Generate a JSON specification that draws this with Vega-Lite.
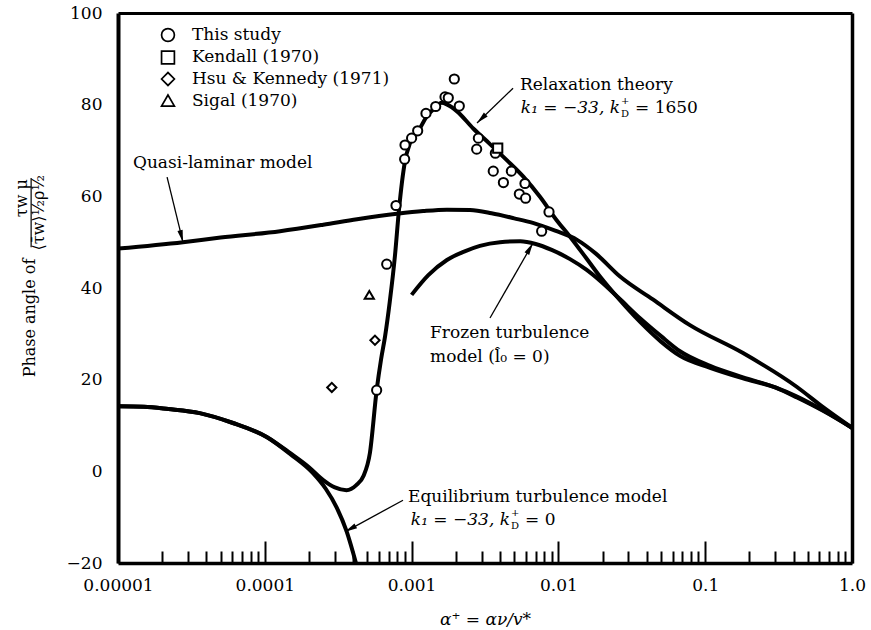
{
  "$schema": "https://vega.github.io/schema/vega-lite/v6.json",
  "width": 734,
  "height": 550,
  "autosize": {"type": "none"},
  "padding": {"left": 118, "top": 13, "right": 19, "bottom": 67},
  "background": "white",
  "config": {
    "font": "DejaVu Serif",
    "view": {"stroke": null},
    "axis": {
      "grid": false,
      "labelFont": "DejaVu Serif",
      "labelFontSize": 17,
      "labelColor": "black",
      "domainColor": "black",
      "tickColor": "black",
      "titleFont": "DejaVu Serif",
      "titleColor": "black",
      "titleFontWeight": "normal",
      "labelFlush": false,
      "labelOverlap": false,
      "labelBound": false
    },
    "text": {"font": "DejaVu Serif", "fontSize": 17, "color": "black"}
  },
  "datasets": {
    "curves": [
      {"series": "Relaxation theory", "x": 0.00001, "y": 14.2},
      {"series": "Relaxation theory", "x": 0.000015, "y": 14.1},
      {"series": "Relaxation theory", "x": 0.000022, "y": 13.6},
      {"series": "Relaxation theory", "x": 0.000036, "y": 12.7},
      {"series": "Relaxation theory", "x": 0.00006, "y": 10.6},
      {"series": "Relaxation theory", "x": 0.000103, "y": 7.5},
      {"series": "Relaxation theory", "x": 0.00015, "y": 3.9},
      {"series": "Relaxation theory", "x": 0.0002, "y": 0.9},
      {"series": "Relaxation theory", "x": 0.00025, "y": -1.9},
      {"series": "Relaxation theory", "x": 0.0003, "y": -3.5},
      {"series": "Relaxation theory", "x": 0.00036, "y": -4.1},
      {"series": "Relaxation theory", "x": 0.00042, "y": -3.0},
      {"series": "Relaxation theory", "x": 0.00047, "y": -1.0},
      {"series": "Relaxation theory", "x": 0.00052, "y": 4.0},
      {"series": "Relaxation theory", "x": 0.000578, "y": 17.7},
      {"series": "Relaxation theory", "x": 0.00062, "y": 24.5},
      {"series": "Relaxation theory", "x": 0.00066, "y": 29.5},
      {"series": "Relaxation theory", "x": 0.00071, "y": 37.0},
      {"series": "Relaxation theory", "x": 0.00077, "y": 47.0},
      {"series": "Relaxation theory", "x": 0.00082, "y": 57.0},
      {"series": "Relaxation theory", "x": 0.0009, "y": 67.5},
      {"series": "Relaxation theory", "x": 0.000975, "y": 71.6},
      {"series": "Relaxation theory", "x": 0.001106, "y": 74.1},
      {"series": "Relaxation theory", "x": 0.001267, "y": 77.4},
      {"series": "Relaxation theory", "x": 0.00145, "y": 79.4},
      {"series": "Relaxation theory", "x": 0.0016, "y": 80.4},
      {"series": "Relaxation theory", "x": 0.00175, "y": 80.0},
      {"series": "Relaxation theory", "x": 0.00203, "y": 78.6},
      {"series": "Relaxation theory", "x": 0.00263, "y": 74.8},
      {"series": "Relaxation theory", "x": 0.00342, "y": 71.4},
      {"series": "Relaxation theory", "x": 0.00445, "y": 67.9},
      {"series": "Relaxation theory", "x": 0.00577, "y": 64.3},
      {"series": "Relaxation theory", "x": 0.00749, "y": 59.9},
      {"series": "Relaxation theory", "x": 0.00973, "y": 54.8},
      {"series": "Relaxation theory", "x": 0.012, "y": 51.2},
      {"series": "Relaxation theory", "x": 0.0155, "y": 46.5},
      {"series": "Relaxation theory", "x": 0.0192, "y": 42.5},
      {"series": "Relaxation theory", "x": 0.026, "y": 37.5},
      {"series": "Relaxation theory", "x": 0.036, "y": 32.6},
      {"series": "Relaxation theory", "x": 0.05, "y": 28.3},
      {"series": "Relaxation theory", "x": 0.0673, "y": 25.2},
      {"series": "Relaxation theory", "x": 0.108, "y": 22.6},
      {"series": "Relaxation theory", "x": 0.181, "y": 20.3},
      {"series": "Relaxation theory", "x": 0.3, "y": 18.3},
      {"series": "Relaxation theory", "x": 0.422, "y": 16.3},
      {"series": "Relaxation theory", "x": 0.635, "y": 13.3},
      {"series": "Relaxation theory", "x": 1.0, "y": 9.5},
      {"series": "Equilibrium turbulence", "x": 0.00001, "y": 14.2},
      {"series": "Equilibrium turbulence", "x": 0.000015, "y": 14.1},
      {"series": "Equilibrium turbulence", "x": 0.000022, "y": 13.6},
      {"series": "Equilibrium turbulence", "x": 0.000036, "y": 12.7},
      {"series": "Equilibrium turbulence", "x": 0.00006, "y": 10.6},
      {"series": "Equilibrium turbulence", "x": 0.000103, "y": 7.5},
      {"series": "Equilibrium turbulence", "x": 0.00015, "y": 3.7},
      {"series": "Equilibrium turbulence", "x": 0.000213, "y": -0.4},
      {"series": "Equilibrium turbulence", "x": 0.00026, "y": -3.8},
      {"series": "Equilibrium turbulence", "x": 0.000309, "y": -7.9},
      {"series": "Equilibrium turbulence", "x": 0.00036, "y": -13.0},
      {"series": "Equilibrium turbulence", "x": 0.000399, "y": -17.7},
      {"series": "Equilibrium turbulence", "x": 0.00043, "y": -21.5},
      {"series": "Frozen turbulence", "x": 0.001, "y": 38.5},
      {"series": "Frozen turbulence", "x": 0.0013, "y": 42.8},
      {"series": "Frozen turbulence", "x": 0.00174, "y": 46.1},
      {"series": "Frozen turbulence", "x": 0.0023, "y": 48.0},
      {"series": "Frozen turbulence", "x": 0.00292, "y": 49.2},
      {"series": "Frozen turbulence", "x": 0.004, "y": 50.0},
      {"series": "Frozen turbulence", "x": 0.0055, "y": 50.2},
      {"series": "Frozen turbulence", "x": 0.007, "y": 49.6},
      {"series": "Frozen turbulence", "x": 0.009, "y": 48.3},
      {"series": "Frozen turbulence", "x": 0.012, "y": 46.3},
      {"series": "Frozen turbulence", "x": 0.0155, "y": 44.0},
      {"series": "Frozen turbulence", "x": 0.0192, "y": 41.6},
      {"series": "Frozen turbulence", "x": 0.026, "y": 37.7},
      {"series": "Frozen turbulence", "x": 0.036, "y": 33.4},
      {"series": "Frozen turbulence", "x": 0.05, "y": 29.5},
      {"series": "Frozen turbulence", "x": 0.0673, "y": 26.2},
      {"series": "Frozen turbulence", "x": 0.108, "y": 23.0},
      {"series": "Frozen turbulence", "x": 0.181, "y": 20.5},
      {"series": "Frozen turbulence", "x": 0.3, "y": 18.3},
      {"series": "Frozen turbulence", "x": 0.422, "y": 16.1},
      {"series": "Frozen turbulence", "x": 0.635, "y": 13.2},
      {"series": "Frozen turbulence", "x": 1.0, "y": 9.5},
      {"series": "Quasi-laminar", "x": 0.00001, "y": 48.6},
      {"series": "Quasi-laminar", "x": 0.0000277, "y": 50.0},
      {"series": "Quasi-laminar", "x": 0.00005, "y": 51.0},
      {"series": "Quasi-laminar", "x": 0.000127, "y": 52.4},
      {"series": "Quasi-laminar", "x": 0.00025, "y": 53.8},
      {"series": "Quasi-laminar", "x": 0.000425, "y": 55.0},
      {"series": "Quasi-laminar", "x": 0.000795, "y": 56.2},
      {"series": "Quasi-laminar", "x": 0.0012, "y": 56.8},
      {"series": "Quasi-laminar", "x": 0.00174, "y": 57.1},
      {"series": "Quasi-laminar", "x": 0.0025, "y": 57.0},
      {"series": "Quasi-laminar", "x": 0.0035, "y": 56.3},
      {"series": "Quasi-laminar", "x": 0.005, "y": 55.2},
      {"series": "Quasi-laminar", "x": 0.0067, "y": 54.2},
      {"series": "Quasi-laminar", "x": 0.0095, "y": 52.5},
      {"series": "Quasi-laminar", "x": 0.0134, "y": 50.5},
      {"series": "Quasi-laminar", "x": 0.018, "y": 47.5},
      {"series": "Quasi-laminar", "x": 0.0263, "y": 42.5},
      {"series": "Quasi-laminar", "x": 0.044, "y": 37.5},
      {"series": "Quasi-laminar", "x": 0.0787, "y": 31.9},
      {"series": "Quasi-laminar", "x": 0.181, "y": 25.8},
      {"series": "Quasi-laminar", "x": 0.422, "y": 18.4},
      {"series": "Quasi-laminar", "x": 0.635, "y": 14.0},
      {"series": "Quasi-laminar", "x": 1.0, "y": 9.5}
    ],
    "measurements": [
      {"source": "This study", "x": 0.001954, "y": 85.6},
      {"source": "This study", "x": 0.001689, "y": 81.7},
      {"source": "This study", "x": 0.001778, "y": 81.5},
      {"source": "This study", "x": 0.002113, "y": 79.7},
      {"source": "This study", "x": 0.001459, "y": 79.6},
      {"source": "This study", "x": 0.001253, "y": 78.1},
      {"source": "This study", "x": 0.0011, "y": 74.3},
      {"source": "This study", "x": 0.001, "y": 72.7},
      {"source": "This study", "x": 0.000902, "y": 71.2},
      {"source": "This study", "x": 0.000897, "y": 68.1},
      {"source": "This study", "x": 0.000783, "y": 58.0},
      {"source": "This study", "x": 0.00285, "y": 72.7},
      {"source": "This study", "x": 0.002775, "y": 70.3},
      {"source": "This study", "x": 0.00372, "y": 69.4},
      {"source": "This study", "x": 0.0036, "y": 65.5},
      {"source": "This study", "x": 0.00478, "y": 65.5},
      {"source": "This study", "x": 0.00422, "y": 63.0},
      {"source": "This study", "x": 0.00592, "y": 62.8},
      {"source": "This study", "x": 0.00542, "y": 60.5},
      {"source": "This study", "x": 0.00598, "y": 59.6},
      {"source": "This study", "x": 0.00863, "y": 56.6},
      {"source": "This study", "x": 0.00769, "y": 52.4},
      {"source": "This study", "x": 0.000677, "y": 45.2},
      {"source": "This study", "x": 0.000578, "y": 17.7},
      {"source": "Kendall (1970)", "x": 0.00386, "y": 70.5},
      {"source": "Hsu & Kennedy (1971)", "x": 0.000563, "y": 28.6},
      {"source": "Hsu & Kennedy (1971)", "x": 0.000286, "y": 18.3},
      {"source": "Sigal (1970)", "x": 0.000515, "y": 38.5}
    ],
    "key": [
      {"source": "This study", "x": 0.0000219, "y": 95.2, "labelX": 0.0000319},
      {"source": "Kendall (1970)", "x": 0.0000219, "y": 90.3, "labelX": 0.0000319},
      {"source": "Hsu & Kennedy (1971)", "x": 0.0000219, "y": 85.6, "labelX": 0.0000319},
      {"source": "Sigal (1970)", "x": 0.0000219, "y": 80.9, "labelX": 0.0000319}
    ],
    "arrows": [
      {"name": "ql", "x": 0.0000216, "y": 64.2, "x2": 0.0000277, "y2": 50.0},
      {"name": "relax", "x": 0.00491, "y": 83.6, "x2": 0.00279, "y2": 76.0},
      {"name": "frozen", "x": 0.00342, "y": 33.45, "x2": 0.00671, "y2": 49.8},
      {"name": "equil", "x": 0.000874, "y": -6.3, "x2": 0.000352, "y2": -13.2}
    ],
    "notes": [
      {"label": "Quasi-laminar model", "x": 0.00001265, "y": 67.3},
      {"label": "Relaxation theory", "x": 0.00547, "y": 84.3},
      {"label": "Frozen turbulence", "x": 0.001335, "y": 30.2},
      {"label": "model (l̂₀ = 0)", "x": 0.001335, "y": 24.9},
      {"label": "Equilibrium turbulence model", "x": 0.000945, "y": -5.6}
    ],
    "kLines": [
      {"head": "k₁ = −33, k", "tail": "= 1650", "x": 0.02628, "y": 79.3},
      {"head": "k₁ = −33, k", "tail": "= 0", "x": 0.00468, "y": -10.6}
    ],
    "yTitle": [
      {"part": "label", "text": "Phase angle of", "x": 0.000002515, "y": 33.45},
      {"part": "numerator", "text": "τw μ", "x": 0.00000222, "y": 59.6},
      {"part": "denominator", "text": "⟨τ̄w⟩½ρ½", "x": 0.00000288, "y": 56.4}
    ],
    "fractionBar": [
      {"x": 0.00000256, "y": 64.0, "y2": 48.9}
    ],
    "phaseTicks": [{"value": 0}, {"value": 20}, {"value": 40}, {"value": 60}, {"value": 80}],
    "decadeTicks": [{"value": 0.0001}, {"value": 0.001}, {"value": 0.01}, {"value": 0.1}]
  },
  "layer": [
    {
      "encoding": {
        "x": {
          "field": "x",
          "type": "quantitative",
          "scale": {"type": "log", "domain": [0.00001, 1], "nice": false},
          "axis": {
            "orient": "bottom",
            "title": "α⁺ = αν/v*",
            "titleFontStyle": "italic",
            "titleFontSize": 17,
            "titlePadding": 8,
            "values": [0.00001, 0.00002, 0.00003, 0.00004, 0.00005, 0.00006, 0.00007, 0.00008, 0.00009,
                       0.0001, 0.0002, 0.0003, 0.0004, 0.0005, 0.0006, 0.0007, 0.0008, 0.0009,
                       0.001, 0.002, 0.003, 0.004, 0.005, 0.006, 0.007, 0.008, 0.009,
                       0.01, 0.02, 0.03, 0.04, 0.05, 0.06, 0.07, 0.08, 0.09,
                       0.1, 0.2, 0.3, 0.4, 0.5, 0.6, 0.7, 0.8, 0.9, 1],
            "tickSize": {"condition": {"test": "abs(log(datum.value) / LN10 - round(log(datum.value) / LN10)) < 0.001", "value": -22}, "value": -12},
            "tickWidth": 2,
            "domainWidth": 3.5,
            "labelPadding": 36,
            "labelExpr": "abs(log(datum.value) / LN10 - round(log(datum.value) / LN10)) > 0.001 ? '' : datum.value < 0.00005 ? '0.00001' : datum.value < 0.0005 ? '0.0001' : datum.value < 0.005 ? '0.001' : datum.value < 0.05 ? '0.01' : datum.value < 0.5 ? '0.1' : '1.0'"
          }
        },
        "y": {
          "field": "y",
          "type": "quantitative",
          "scale": {"domain": [-20, 100], "nice": false, "zero": false},
          "axis": {
            "orient": "left",
            "title": null,
            "values": [-20, 0, 20, 40, 60, 80, 100],
            "ticks": false,
            "domainWidth": 4,
            "labelPadding": 16
          }
        }
      },
      "layer": [
        {
          "data": {"name": "phaseTicks"},
          "mark": {"type": "rule", "color": "black", "strokeWidth": 2.5},
          "encoding": {
            "y": {"field": "value", "type": "quantitative"},
            "x": {"datum": 0.00001, "type": "quantitative"},
            "x2": {"datum": 0.0000137}
          }
        },
        {
          "data": {"name": "phaseTicks"},
          "mark": {"type": "rule", "color": "black", "strokeWidth": 2.5},
          "encoding": {
            "y": {"field": "value", "type": "quantitative"},
            "x": {"datum": 0.855, "type": "quantitative"},
            "x2": {"datum": 1}
          }
        },
        {
          "data": {"name": "decadeTicks"},
          "mark": {"type": "rule", "color": "black", "strokeWidth": 2.5},
          "encoding": {
            "x": {"field": "value", "type": "quantitative"},
            "y": {"datum": 100, "type": "quantitative"},
            "y2": {"datum": 97.8}
          }
        },
        {
          "data": {"name": "curves"},
          "mark": {"type": "line", "interpolate": "monotone", "color": "black", "strokeWidth": 4, "clip": true},
          "encoding": {"detail": {"field": "series", "type": "nominal"}}
        },
        {
          "data": {"name": "arrows"},
          "mark": {"type": "rule", "color": "black", "strokeWidth": 1.3},
          "encoding": {"x2": {"field": "x2"}, "y2": {"field": "y2"}}
        },
        {
          "data": {"name": "arrows"},
          "transform": [{"filter": "datum.name == 'ql'"}],
          "mark": {"type": "point", "shape": "M 0 0 L -0.22 -1 L 0.22 -1 Z", "filled": true, "color": "black", "size": 600, "angle": 346.2, "opacity": 1},
          "encoding": {"x": {"field": "x2", "type": "quantitative"}, "y": {"field": "y2", "type": "quantitative"}}
        },
        {
          "data": {"name": "arrows"},
          "transform": [{"filter": "datum.name == 'relax'"}],
          "mark": {"type": "point", "shape": "M 0 0 L -0.22 -1 L 0.22 -1 Z", "filled": true, "color": "black", "size": 600, "angle": 45.8, "opacity": 1},
          "encoding": {"x": {"field": "x2", "type": "quantitative"}, "y": {"field": "y2", "type": "quantitative"}}
        },
        {
          "data": {"name": "arrows"},
          "transform": [{"filter": "datum.name == 'frozen'"}],
          "mark": {"type": "point", "shape": "M 0 0 L -0.22 -1 L 0.22 -1 Z", "filled": true, "color": "black", "size": 600, "angle": 209.8, "opacity": 1},
          "encoding": {"x": {"field": "x2", "type": "quantitative"}, "y": {"field": "y2", "type": "quantitative"}}
        },
        {
          "data": {"name": "arrows"},
          "transform": [{"filter": "datum.name == 'equil'"}],
          "mark": {"type": "point", "shape": "M 0 0 L -0.22 -1 L 0.22 -1 Z", "filled": true, "color": "black", "size": 600, "angle": 61.1, "opacity": 1},
          "encoding": {"x": {"field": "x2", "type": "quantitative"}, "y": {"field": "y2", "type": "quantitative"}}
        },
        {
          "data": {"name": "notes"},
          "mark": {"type": "text", "align": "left", "baseline": "middle", "fontSize": 17},
          "encoding": {"text": {"field": "label"}}
        },
        {
          "data": {"name": "kLines"},
          "mark": {"type": "text", "align": "right", "baseline": "middle", "fontSize": 17, "fontStyle": "italic"},
          "encoding": {"text": {"field": "head"}}
        },
        {
          "data": {"name": "kLines"},
          "mark": {"type": "text", "align": "left", "baseline": "middle", "fontSize": 10, "dx": 1, "dy": -6.5},
          "encoding": {"text": {"value": "+"}}
        },
        {
          "data": {"name": "kLines"},
          "mark": {"type": "text", "align": "left", "baseline": "middle", "fontSize": 10, "dx": 1, "dy": 6.5},
          "encoding": {"text": {"value": "D"}}
        },
        {
          "data": {"name": "kLines"},
          "mark": {"type": "text", "align": "left", "baseline": "middle", "fontSize": 17, "dx": 15},
          "encoding": {"text": {"field": "tail"}}
        },
        {
          "data": {"name": "yTitle"},
          "transform": [{"filter": "datum.part == 'label'"}],
          "mark": {"type": "text", "align": "center", "baseline": "middle", "angle": 270, "fontSize": 16},
          "encoding": {"text": {"field": "text"}}
        },
        {
          "data": {"name": "yTitle"},
          "transform": [{"filter": "datum.part != 'label'"}],
          "mark": {"type": "text", "align": "center", "baseline": "middle", "angle": 270, "fontSize": 16},
          "encoding": {"text": {"field": "text"}}
        },
        {
          "data": {"name": "fractionBar"},
          "mark": {"type": "rule", "color": "black", "strokeWidth": 1.2},
          "encoding": {"y2": {"field": "y2"}}
        },
        {
          "data": {"name": "key"},
          "mark": {"type": "text", "align": "left", "baseline": "middle", "fontSize": 17},
          "encoding": {"x": {"field": "labelX", "type": "quantitative"}, "text": {"field": "source"}}
        },
        {
          "data": {"name": "key"},
          "mark": {"type": "point", "filled": true, "color": "white", "stroke": "black", "strokeWidth": 1.7, "size": 165, "opacity": 1},
          "encoding": {
            "shape": {
              "field": "source",
              "type": "nominal",
              "scale": {
                "domain": ["This study", "Kendall (1970)", "Hsu & Kennedy (1971)", "Sigal (1970)"],
                "range": ["circle", "square", "diamond", "triangle-up"]
              },
              "legend": null
            }
          }
        }
      ]
    },
    {
      "data": {"name": "measurements"},
      "mark": {"type": "point", "filled": true, "color": "white", "stroke": "black", "strokeWidth": 2, "size": 85, "opacity": 1},
      "encoding": {
        "x": {
          "field": "x",
          "type": "quantitative",
          "scale": {"type": "log", "domain": [0.00001, 1], "nice": false},
          "axis": {"orient": "top", "title": null, "labels": false, "ticks": false, "domainWidth": 3}
        },
        "y": {
          "field": "y",
          "type": "quantitative",
          "scale": {"domain": [-20, 100], "nice": false, "zero": false},
          "axis": {"orient": "right", "title": null, "labels": false, "ticks": false, "domainWidth": 3.5}
        },
        "shape": {
          "field": "source",
          "type": "nominal",
          "scale": {
            "domain": ["This study", "Kendall (1970)", "Hsu & Kennedy (1971)", "Sigal (1970)"],
            "range": ["circle", "square", "diamond", "triangle-up"]
          },
          "legend": null
        }
      }
    }
  ],
  "resolve": {"axis": {"x": "independent", "y": "independent"}}
}
